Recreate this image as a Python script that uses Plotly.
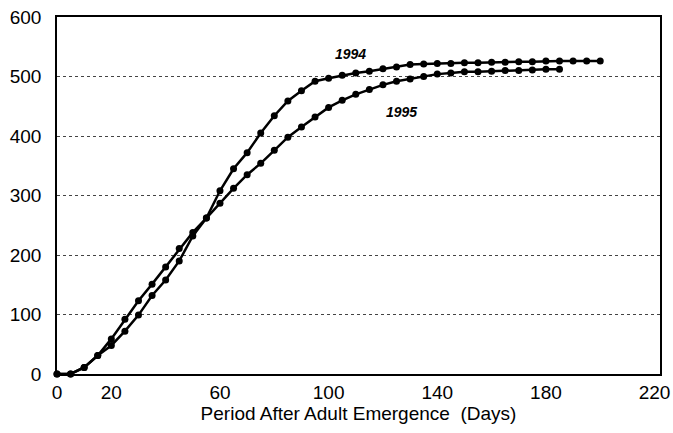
import plotly.graph_objects as go

days_1994 = [0, 5, 10, 15, 20, 25, 30, 35, 40, 45, 50, 55, 60, 65, 70, 75, 80, 85, 90, 95,
             100, 105, 110, 115, 120, 125, 130, 135, 140, 145, 150, 155, 160, 165, 170, 175,
             180, 185, 190, 195, 200]
vals_1994 = [0, 0, 11, 31, 48, 72, 99, 132, 158, 190, 232, 262, 308, 345, 372, 405, 434, 459,
             476, 492, 497, 502, 506, 509, 513, 516, 520, 521, 522, 522, 523, 523, 524, 524,
             525, 525, 526, 526, 526, 526, 526]

days_1995 = [0, 5, 10, 15, 20, 25, 30, 35, 40, 45, 50, 55, 60, 65, 70, 75, 80, 85, 90, 95,
             100, 105, 110, 115, 120, 125, 130, 135, 140, 145, 150, 155, 160, 165, 170, 175,
             180, 185]
vals_1995 = [0, 0, 11, 31, 59, 92, 123, 151, 180, 211, 238, 262, 287, 312, 335, 354, 376, 398,
             415, 432, 448, 460, 470, 478, 486, 492, 496, 500, 504, 506, 508, 508, 509, 510,
             510, 511, 512, 512]

x_ticks = [0, 20, 60, 100, 140, 180, 220]
y_ticks = [0, 100, 200, 300, 400, 500, 600]

fig = go.Figure()
for d, v in [(days_1994, vals_1994), (days_1995, vals_1995)]:
    fig.add_trace(go.Scatter(
        x=d, y=v, mode="lines+markers",
        line=dict(color="black", width=2.5),
        marker=dict(color="black", size=7),
        cliponaxis=False, showlegend=False))

fig.add_annotation(x=108, y=537, text="<b><i>1994</i></b>", showarrow=False,
                   font=dict(family="Liberation Sans, Arial", size=14, color="black"))
fig.add_annotation(x=127, y=441, text="<b><i>1995</i></b>", showarrow=False,
                   font=dict(family="Liberation Sans, Arial", size=14, color="black"))

fig.update_layout(
    width=673, height=433,
    margin=dict(l=57, r=13, t=17, b=59, autoexpand=False),
    paper_bgcolor="white", plot_bgcolor="white",
    font=dict(family="Liberation Sans, Arial", size=19, color="black"),
    xaxis=dict(range=[0, 222], tickvals=x_ticks, ticktext=[str(t) for t in x_ticks],
               showgrid=False, zeroline=False, showline=True, linecolor="black",
               linewidth=1.5, mirror=True, ticks="", automargin=False,
               tickfont=dict(size=19),
               title=dict(text="Period After Adult Emergence  (Days)", standoff=4,
                          font=dict(size=19))),
    yaxis=dict(range=[0, 600], tickvals=y_ticks, showgrid=True, gridcolor="#444444",
               griddash="dot", gridwidth=1, zeroline=False, showline=True,
               linecolor="black", linewidth=1.5, mirror=True, ticks="",
               automargin=False, tickfont=dict(size=19), ticklabelstandoff=10),
)

fig.write_html("out.html", config={"displayModeBar": False},
               post_script="document.body.style.margin='0';document.body.style.overflow='hidden';")
